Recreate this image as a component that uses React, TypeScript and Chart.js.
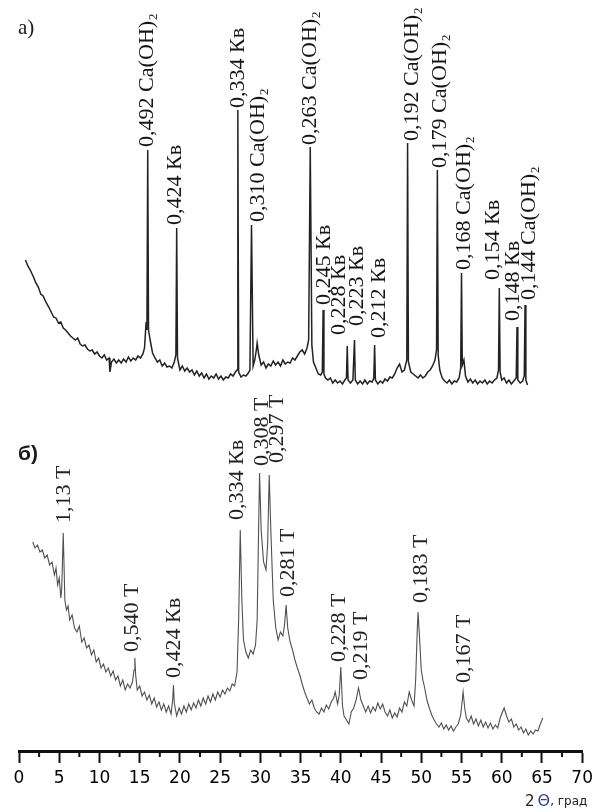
import React, { useEffect, useRef } from "react";
import { Chart, registerables } from "chart.js";

Chart.register(...registerables);

// ---------- DATA ----------
// Pattern а) (2θ, degrees) and intensity (a.u., before stacking offset)
const aTheta = [
  0.8, 1.1, 1.4, 1.8, 2.1, 2.4, 2.7, 3.0, 3.4, 3.7, 4.0, 4.3, 4.6, 4.9, 5.2, 5.5, 5.8, 6.1, 6.4, 6.7,
  7.0, 7.3, 7.6, 7.9, 8.2, 8.5, 8.8, 9.1, 9.4, 9.7, 10.0, 10.3, 10.6, 10.9, 11.2, 11.3, 11.5, 11.8, 12.1, 12.4,
  12.7, 13.0, 13.3, 13.6, 13.9, 14.2, 14.5, 14.8, 15.1, 15.4, 15.6, 15.8, 15.9, 16.0, 16.1, 16.3, 16.6, 16.9, 17.2, 17.5,
  17.8, 18.1, 18.4, 18.7, 19.0, 19.3, 19.5, 19.6, 19.7, 20.0, 20.3, 20.6, 20.9, 21.2, 21.5, 21.8, 22.1, 22.4, 22.7, 23.0,
  23.3, 23.6, 23.9, 24.2, 24.5, 24.8, 25.1, 25.4, 25.7, 26.0, 26.3, 26.6, 26.9, 27.1, 27.2, 27.3, 27.6, 27.9, 28.2, 28.5,
  28.7, 28.9, 29.1, 29.3, 29.5, 29.6, 29.8, 30.1, 30.4, 30.7, 31.0, 31.3, 31.6, 31.9, 32.2, 32.5, 32.8, 33.1, 33.4, 33.7,
  34.0, 34.3, 34.6, 34.9, 35.2, 35.5, 35.8, 36.0, 36.2, 36.4, 36.6, 36.9, 37.2, 37.5, 37.7, 37.8, 37.9, 38.1, 38.4, 38.7,
  39.0, 39.3, 39.6, 39.9, 40.2, 40.5, 40.7, 40.8, 40.9, 41.2, 41.5, 41.7, 41.8, 42.1, 42.4, 42.7, 43.0, 43.3, 43.6, 43.9,
  44.1, 44.2, 44.3, 44.6, 44.9, 45.2, 45.5, 45.8, 46.1, 46.4, 46.7, 47.0, 47.3, 47.6, 47.9, 48.2, 48.3, 48.4, 48.7, 49.0,
  49.3, 49.6, 49.9, 50.2, 50.5, 50.8, 51.1, 51.4, 51.7, 51.9, 52.0, 52.1, 52.3, 52.6, 52.9, 53.2, 53.5, 53.8, 54.1, 54.4,
  54.7, 54.9, 55.0, 55.1, 55.3, 55.5, 55.8, 56.1, 56.4, 56.7, 57.0, 57.3, 57.6, 57.9, 58.2, 58.5, 58.8, 59.1, 59.4, 59.6,
  59.7, 59.8, 60.0, 60.3, 60.6, 60.9, 61.2, 61.5, 61.8, 61.9, 62.0, 62.3, 62.6, 62.8, 62.9, 63.0, 63.2,
];
const aCounts = [
  131, 125, 121, 114, 108, 104, 97, 95, 88, 84, 79, 74, 73, 68, 69, 63, 61, 58, 55, 53,
  51, 53, 47, 45, 46, 42, 40, 41, 37, 39, 35, 33, 36, 31, 33, 19, 29, 32, 28, 31,
  28, 32, 29, 34, 30, 33, 31, 35, 33, 37, 43, 69, 61, 241, 61, 51, 38, 33, 29, 31,
  25, 28, 24, 25, 23, 29, 36, 163, 33, 21, 25, 20, 23, 19, 21, 16, 20, 15, 18, 13,
  17, 12, 15, 13, 17, 12, 15, 11, 14, 13, 17, 15, 19, 21, 281, 19, 14, 16, 15, 18,
  21, 166, 25, 31, 41, 48, 36, 26, 29, 23, 27, 25, 30, 26, 29, 25, 31, 27, 29, 28,
  33, 31, 35, 39, 41, 37, 43, 51, 244, 46, 29, 23, 17, 16, 19, 81, 17, 13, 11, 13,
  8, 11, 8, 10, 7, 11, 13, 45, 11, 8, 11, 51, 11, 7, 10, 7, 11, 7, 10, 9,
  13, 46, 11, 7, 10, 8, 12, 10, 14, 13, 17, 23, 27, 19, 21, 31, 248, 29, 19, 17,
  15, 13, 16, 13, 15, 19, 21, 25, 31, 41, 221, 36, 21, 13, 10, 8, 11, 7, 10, 9,
  13, 23, 118, 26, 31, 15, 9, 12, 8, 11, 7, 10, 8, 11, 7, 10, 8, 11, 13, 21,
  103, 19, 11, 13, 8, 11, 7, 10, 13, 64, 11, 8, 10, 15, 86, 11, 6,
];

// Pattern б)
const bTheta = [
  1.7, 2.0, 2.3, 2.6, 2.9, 3.2, 3.5, 3.8, 4.1, 4.4, 4.6, 4.8, 5.0, 5.2, 5.3, 5.5, 5.7, 5.9, 6.1, 6.3,
  6.6, 6.9, 7.2, 7.5, 7.8, 8.1, 8.4, 8.7, 9.0, 9.3, 9.6, 9.9, 10.2, 10.5, 10.8, 11.1, 11.4, 11.7, 12.0, 12.3,
  12.6, 12.9, 13.2, 13.5, 13.8, 14.1, 14.3, 14.4, 14.5, 14.7, 15.0, 15.3, 15.6, 15.9, 16.2, 16.5, 16.8, 17.1, 17.4, 17.7,
  18.0, 18.3, 18.6, 18.9, 19.1, 19.2, 19.3, 19.6, 19.9, 20.2, 20.5, 20.8, 21.1, 21.4, 21.7, 22.0, 22.3, 22.6, 22.9, 23.2,
  23.5, 23.8, 24.1, 24.4, 24.7, 25.0, 25.3, 25.6, 25.9, 26.2, 26.5, 26.8, 27.1, 27.3, 27.5, 27.7, 27.9, 28.2, 28.5, 28.8,
  29.1, 29.4, 29.6, 29.8, 29.9, 30.1, 30.4, 30.7, 30.9, 31.1, 31.3, 31.6, 31.9, 32.2, 32.5, 32.8, 33.0, 33.2, 33.4, 33.7,
  34.0, 34.3, 34.6, 34.9, 35.2, 35.5, 35.8, 36.1, 36.4, 36.7, 37.0, 37.3, 37.6, 37.9, 38.2, 38.5, 38.8, 39.1, 39.3, 39.6,
  39.8, 40.0, 40.2, 40.4, 40.7, 41.0, 41.3, 41.6, 41.9, 42.2, 42.5, 42.8, 43.1, 43.4, 43.7, 44.0, 44.3, 44.6, 44.9, 45.2,
  45.5, 45.8, 46.1, 46.4, 46.7, 47.0, 47.3, 47.6, 47.9, 48.2, 48.5, 48.8, 49.1, 49.3, 49.5, 49.6, 49.8, 50.0, 50.2, 50.4,
  50.7, 51.0, 51.3, 51.6, 51.9, 52.2, 52.5, 52.8, 53.1, 53.4, 53.7, 54.0, 54.3, 54.6, 54.9, 55.1, 55.2, 55.4, 55.6, 55.9,
  56.2, 56.5, 56.8, 57.1, 57.4, 57.7, 58.0, 58.3, 58.6, 58.9, 59.2, 59.5, 59.8, 60.1, 60.3, 60.6, 60.9, 61.2, 61.5, 61.8,
  62.1, 62.4, 62.7, 63.0, 63.3, 63.6, 63.9, 64.2, 64.5, 64.8, 65.1,
];
const bCounts = [
  209, 203, 206, 199, 201, 193, 196, 186, 189, 176, 183, 166, 173, 153, 161, 218, 151, 141, 145, 131,
  136, 123, 119, 125, 109, 113, 103, 106, 96, 101, 89, 93, 83, 87, 79, 83, 75, 80, 71, 75,
  65, 71, 61, 67, 63, 69, 81, 93, 76, 61, 65, 55, 59, 51, 56, 47, 53, 44, 49, 41,
  47, 39, 45, 37, 51, 66, 48, 35, 43, 37, 45, 39, 47, 41, 48, 43, 51, 45, 53, 47,
  55, 49, 57, 51, 59, 54, 61, 57, 63, 60, 67, 65, 79, 131, 221, 151, 111, 99, 93, 101,
  97, 106, 131, 231, 278, 221, 189, 181, 206, 276, 221, 151, 124, 111, 119, 115, 126, 146, 123, 109,
  101, 91, 83, 76, 67, 59, 53, 47, 51, 43, 39, 37, 43, 39, 46, 42, 49, 53, 59, 47,
  56, 84, 46, 35, 31, 27, 39, 43, 51, 63, 51, 45, 39, 45, 38, 44, 40, 48, 42, 47,
  39, 35, 41, 33, 38, 34, 43, 39, 49, 45, 59, 51, 45, 71, 121, 139, 111, 81, 71, 64,
  51, 43, 36, 31, 27, 24, 28, 22, 26, 21, 25, 20, 24, 27, 36, 51, 59, 43, 33, 29,
  35, 27, 32, 25, 31, 24, 29, 23, 28, 22, 26, 23, 33, 39, 43, 35, 29, 32, 24, 27,
  21, 24, 18, 22, 16, 20, 17, 21, 20, 27, 33,
];

// Stacking offset for pattern а) (a.u.)
const aOffset = 360;

// Peak identification labels
const aPeakTheta = [16.0, 19.6, 27.2, 28.9, 36.2, 37.8, 40.8, 41.7, 44.2, 48.3, 52.0, 55.0, 59.7, 61.9, 62.9];
const aPeakNames = [
  "0,492 Ca(OH)₂", "0,424 Кв", "0,334 Кв", "0,310 Ca(OH)₂", "0,263 Ca(OH)₂", "0,245 Кв",
  "0,228 Кв", "0,223 Кв", "0,212 Кв", "0,192 Ca(OH)₂", "0,179 Ca(OH)₂", "0,168 Ca(OH)₂",
  "0,154 Кв", "0,148 Кв", "0,144 Ca(OH)₂",
];
const bPeakTheta = [5.5, 14.4, 19.2, 27.5, 29.9, 31.1, 33.2, 40.0, 42.2, 49.6, 55.2];
const bPeakNames = [
  "1,13 T", "0,540 T", "0,424 Кв", "0,334 Кв", "0,308 T", "0,297 T",
  "0,281 T", "0,228 T", "0,219 T", "0,183 T", "0,167 T",
];

const xTickValues = [0, 5, 10, 15, 20, 25, 30, 35, 40, 45, 50, 55, 60, 65, 70];
const panelTitles = ["а)", "б)"];

// ---------- STYLE / PLACEMENT ----------
// label nudges [dx px, gap px above apex]
const aNudge = [[0, 3], [-1, 3], [1, 2], [7, 3], [0, 2], [1, 5], [-8, 11], [3, 14], [5, 7], [5, 2], [3, 2], [3, 3], [-6, 8], [-4, 6], [4, 5]];
const bNudge = [[1, 10], [-2, 6], [1, 7], [-3, 10], [3, 7], [8, 12], [2, 8], [-1, 5], [3, 8], [3, 9], [1, 9]];

const W = 598;
const H = 811;

function findIndex(arr: number[], v: number) {
  return arr.findIndex((t) => Math.abs(t - v) < 1e-6);
}

const labelPlugin = {
  id: "peakLabels",
  afterDatasetsDraw(chart: any) {
    const ctx = chart.ctx as CanvasRenderingContext2D;
    const drawSet = (dsIndex: number, thetas: number[], peaks: number[], names: string[], nudge: number[][], color: string) => {
      const meta = chart.getDatasetMeta(dsIndex);
      peaks.forEach((p, i) => {
        const idx = findIndex(thetas, p);
        if (idx < 0) return;
        const pt = meta.data[idx];
        const x = pt.x + nudge[i][0];
        const y = pt.y - nudge[i][1];
        ctx.save();
        ctx.translate(x, y);
        ctx.rotate(-Math.PI / 2);
        ctx.scale(1.05, 1);
        ctx.font = '21px "Liberation Serif", "DejaVu Serif", serif';
        ctx.fillStyle = color;
        ctx.textAlign = "left";
        ctx.textBaseline = "middle";
        ctx.fillText(names[i], 0, 0);
        ctx.restore();
      });
    };
    drawSet(0, aTheta, aPeakTheta, aPeakNames, aNudge, "#151515");
    drawSet(1, bTheta, bPeakTheta, bPeakNames, bNudge, "#222");

    // panel titles
    ctx.save();
    ctx.fillStyle = "#1a1a1a";
    ctx.textAlign = "left";
    ctx.textBaseline = "alphabetic";
    ctx.font = '21px "Liberation Serif", serif';
    ctx.fillText(panelTitles[0], 18, 34);
    ctx.font = 'bold 21px "Liberation Sans", Arial, sans-serif';
    ctx.fillText(panelTitles[1], 18, 460);
    ctx.restore();
  },
  afterDraw(chart: any) {
    const ctx = chart.ctx as CanvasRenderingContext2D;
    const xs = chart.scales.x;
    const bottom = chart.chartArea.bottom;
    ctx.save();
    ctx.strokeStyle = "#111";
    ctx.lineWidth = 2;
    for (let i = 0; i < xTickValues.length - 1; i++) {
      const v = (xTickValues[i] + xTickValues[i + 1]) / 2;
      const px = xs.getPixelForValue(v);
      ctx.beginPath();
      ctx.moveTo(px, bottom);
      ctx.lineTo(px, bottom + 6);
      ctx.stroke();
    }
    // axis title "2 Θ, град"
    ctx.textBaseline = "alphabetic";
    ctx.textAlign = "left";
    let x = 525;
    const yb = 806;
    ctx.fillStyle = "#222";
    ctx.font = '15px "DejaVu Sans", sans-serif';
    ctx.fillText("2", x, yb);
    x += ctx.measureText("2").width + 3;
    ctx.fillStyle = "#2c3f78";
    ctx.font = '16px "DejaVu Sans", sans-serif';
    ctx.fillText("Θ", x, yb);
    x += ctx.measureText("Θ").width;
    ctx.fillStyle = "#222";
    ctx.font = '12px "DejaVu Sans", sans-serif';
    ctx.fillText(", град", x, yb - 1);
    ctx.restore();
  },
};

export default function App() {
  const ref = useRef<HTMLCanvasElement | null>(null);

  useEffect(() => {
    if (!ref.current) return;
    const aData = aTheta.map((t, i) => ({ x: t, y: aCounts[i] + aOffset }));
    const bData = bTheta.map((t, i) => ({ x: t, y: bCounts[i] }));
    const chart = new Chart(ref.current, {
      type: "line",
      data: {
        datasets: [
          {
            label: "а)",
            data: aData,
            borderColor: "#222",
            borderWidth: 1.5,
            pointRadius: 0,
            tension: 0,
            fill: false,
          },
          {
            label: "б)",
            data: bData,
            borderColor: "#505050",
            borderWidth: 1.1,
            pointRadius: 0,
            tension: 0,
            fill: false,
          },
        ],
      },
      options: {
        responsive: false,
        animation: false,
        events: [],
        layout: { padding: { left: 19, right: 15, top: 0, bottom: 0 } },
        plugins: { legend: { display: false }, tooltip: { enabled: false }, title: { display: false } },
        scales: {
          x: {
            type: "linear",
            min: 0,
            max: 70,
            afterBuildTicks: (scale: any) => {
              scale.ticks = xTickValues.map((v) => ({ value: v }));
            },
            afterFit: (scale: any) => {
              scale.height = 60;
            },
            ticks: {
              color: "#000",
              padding: 5,
              maxRotation: 0,
              autoSkip: false,
              font: { family: '"DejaVu Sans", sans-serif', size: 17 },
            },
            grid: {
              display: true,
              drawOnChartArea: false,
              drawTicks: true,
              tickLength: 12,
              tickWidth: 2,
              tickColor: "#111",
            },
            border: { display: true, color: "#111", width: 3 },
          },
          y: { display: false, min: 0, max: 751 },
        },
      },
      plugins: [labelPlugin],
    });
    return () => chart.destroy();
  }, []);

  return (
    <div style={{ position: "absolute", left: 0, top: 0, width: W, height: H, background: "#fff" }}>
      <canvas ref={ref} width={W} height={H} style={{ display: "block", width: W, height: H }} />
    </div>
  );
}
